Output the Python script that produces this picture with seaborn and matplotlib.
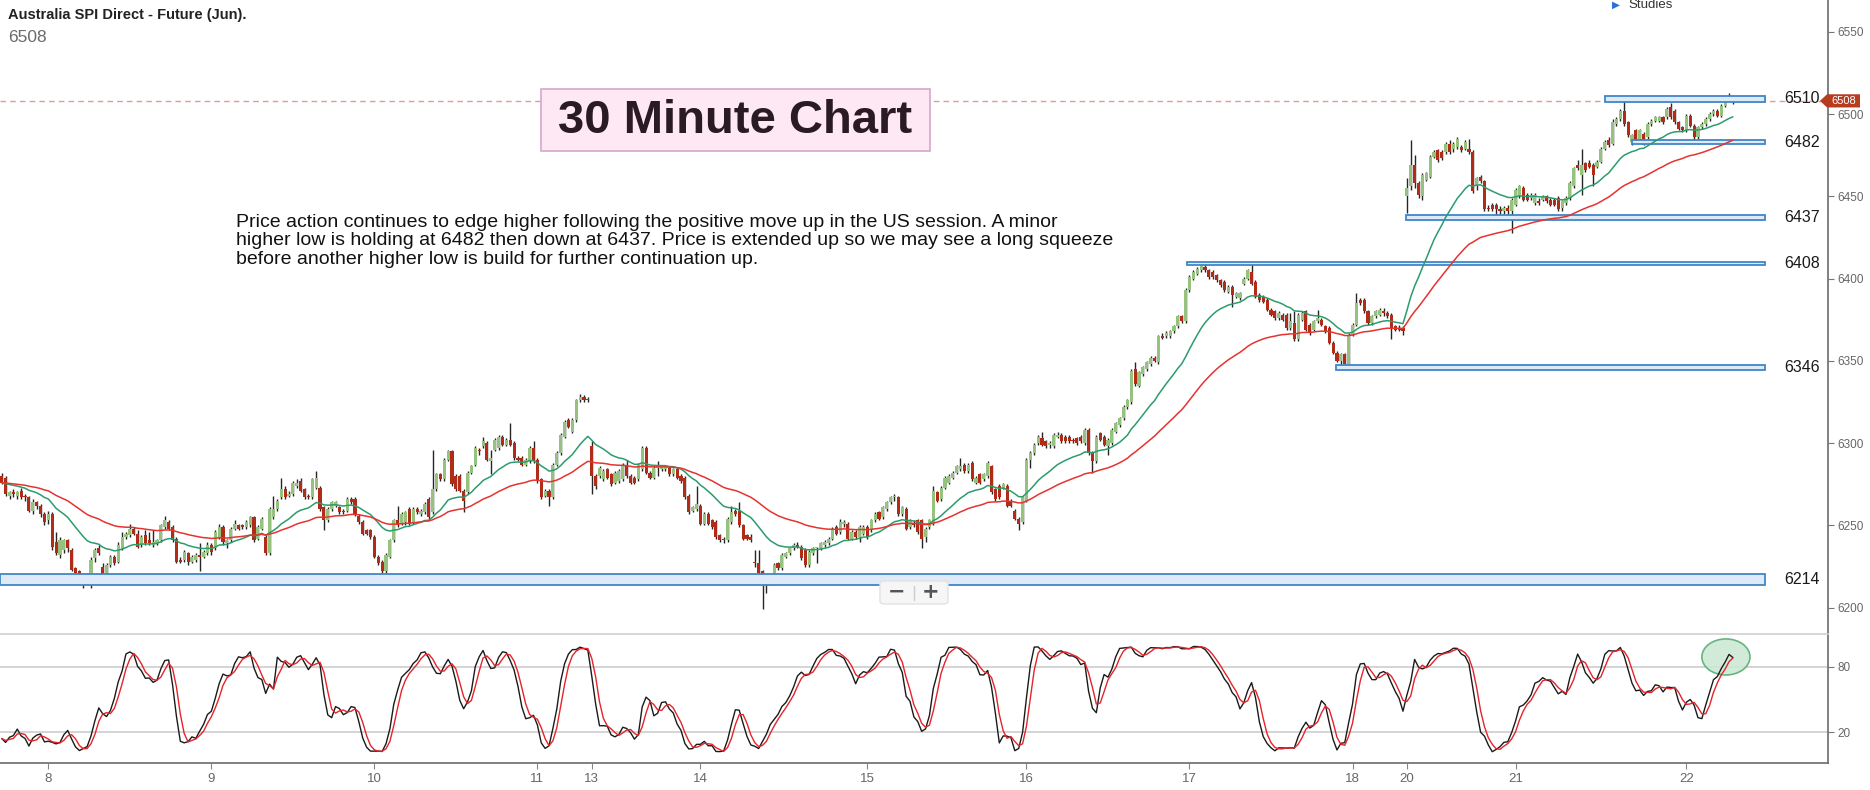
import numpy as np
import pandas as pd
import matplotlib
matplotlib.use("Agg")
import matplotlib.pyplot as plt
import matplotlib.patches as mpatches
import matplotlib.transforms as mtransforms
from matplotlib import font_manager
import seaborn as sns

# 30 minute bars
opens = [
    6280, 6279, 6268, 6270, 6268, 6271, 6268, 6267, 6259, 6264,
    6262, 6257, 6253, 6257, 6240, 6232, 6235, 6241, 6235, 6224,
    6222, 6219, 6220, 6217, 6230, 6236, 6225, 6221, 6226, 6231,
    6228, 6236, 6243, 6244, 6248, 6245, 6238, 6244, 6241, 6238,
    6239, 6241, 6249, 6252, 6249, 6242, 6229, 6229, 6233, 6228,
    6229, 6232, 6231, 6233, 6238, 6236, 6243, 6249, 6239, 6241,
    6248, 6250, 6250, 6249, 6250, 6255, 6242, 6248, 6243, 6233,
    6255, 6260, 6267, 6272, 6268, 6269, 6274, 6277, 6272, 6268,
    6267, 6273, 6273, 6261, 6253, 6260, 6262, 6261, 6259, 6259,
    6266, 6266, 6256, 6252, 6247, 6247, 6243, 6231, 6228, 6222,
    6231, 6241, 6253, 6251, 6252, 6260, 6252, 6260, 6257, 6258,
    6266, 6258, 6272, 6281, 6278, 6290, 6295, 6280, 6280, 6271,
    6270, 6282, 6287, 6296, 6298, 6300, 6289, 6296, 6297, 6304,
    6299, 6302, 6300, 6291, 6291, 6287, 6289, 6297, 6290, 6278,
    6268, 6271, 6267, 6287, 6294, 6304, 6314, 6307, 6314, 6326,
    6328, 6327, 6298, 6280, 6280, 6278, 6284, 6281, 6276, 6277,
    6278, 6287, 6280, 6279, 6278, 6284, 6297, 6282, 6279, 6285,
    6284, 6284, 6285, 6281, 6284, 6280, 6279, 6268, 6259, 6260,
    6262, 6251, 6257, 6253, 6252, 6244, 6242, 6241, 6252, 6259,
    6259, 6250, 6244, 6243, 6228, 6227, 6222, 6218, 6216, 6217,
    6227, 6224, 6231, 6233, 6236, 6238, 6237, 6235, 6226, 6233,
    6236, 6236, 6238, 6239, 6242, 6249, 6246, 6251, 6251, 6242,
    6246, 6243, 6245, 6249, 6247, 6253, 6258, 6255, 6260, 6264,
    6267, 6267, 6257, 6260, 6249, 6251, 6253, 6253, 6243, 6249,
    6251, 6270, 6266, 6273, 6276, 6279, 6282, 6284, 6287, 6283,
    6288, 6276, 6281, 6278, 6280, 6286, 6272, 6274, 6273, 6274,
    6265, 6259, 6254, 6252, 6265, 6290, 6294, 6300, 6303, 6301,
    6299, 6298, 6304, 6305, 6304, 6304, 6302, 6303, 6304, 6300,
    6308, 6294, 6289, 6306, 6304, 6298, 6300, 6307, 6311, 6315,
    6322, 6325, 6345, 6335, 6342, 6345, 6348, 6352, 6349, 6365,
    6365, 6365, 6368, 6371, 6377, 6374, 6393, 6400, 6403, 6405,
    6407, 6405, 6404, 6402, 6399, 6398, 6392, 6395, 6389, 6388,
    6397, 6400, 6404, 6398, 6390, 6389, 6387, 6381, 6380, 6376,
    6378, 6378, 6370, 6373, 6363, 6375, 6380, 6372, 6369, 6374,
    6375, 6371, 6370, 6361, 6355, 6350, 6354, 6348, 6366, 6372,
    6387, 6387, 6380, 6373, 6377, 6378, 6380, 6379, 6378, 6371,
    6370, 6370, 6450, 6456, 6469, 6458, 6450, 6460, 6462, 6474,
    6478, 6477, 6477, 6482, 6479, 6480, 6480, 6479, 6479, 6477,
    6456, 6462, 6459, 6443, 6445, 6445, 6442, 6441, 6443, 6441,
    6445, 6450, 6455, 6451, 6449, 6446, 6447, 6448, 6450, 6448,
    6448, 6449, 6443, 6446, 6449, 6456, 6469, 6463, 6470, 6470,
    6469, 6468, 6471, 6479, 6484, 6482, 6494, 6497, 6502, 6495,
    6483, 6490, 6485, 6488, 6486, 6494, 6496, 6496, 6498, 6498,
    6504, 6502, 6495, 6492, 6490, 6499, 6493, 6486, 6492, 6494,
    6497, 6500, 6502, 6499, 6505, 6511, 6508,
]
highs = [
    6282, 6280, 6271, 6272, 6271, 6273, 6269, 6268, 6266, 6265,
    6263, 6258, 6259, 6258, 6246, 6243, 6242, 6242, 6236, 6225,
    6223, 6221, 6221, 6231, 6236, 6238, 6227, 6227, 6232, 6232,
    6240, 6246, 6246, 6251, 6249, 6247, 6244, 6247, 6246, 6247,
    6242, 6251, 6256, 6253, 6250, 6243, 6231, 6235, 6234, 6232,
    6233, 6239, 6235, 6240, 6239, 6247, 6251, 6250, 6242, 6249,
    6253, 6251, 6251, 6253, 6256, 6256, 6250, 6255, 6244, 6261,
    6268, 6266, 6279, 6274, 6271, 6277, 6278, 6279, 6273, 6269,
    6279, 6283, 6274, 6262, 6261, 6265, 6265, 6262, 6260, 6267,
    6267, 6267, 6257, 6253, 6248, 6248, 6244, 6232, 6229, 6233,
    6242, 6254, 6262, 6258, 6259, 6261, 6261, 6261, 6260, 6264,
    6267, 6296, 6282, 6282, 6291, 6296, 6296, 6281, 6281, 6272,
    6283, 6287, 6298, 6297, 6304, 6301, 6296, 6303, 6305, 6305,
    6303, 6312, 6301, 6292, 6292, 6291, 6298, 6301, 6291, 6279,
    6272, 6272, 6288, 6295, 6306, 6314, 6315, 6315, 6327, 6330,
    6329, 6328, 6301, 6281, 6286, 6284, 6285, 6282, 6283, 6284,
    6288, 6290, 6281, 6280, 6288, 6298, 6298, 6283, 6286, 6289,
    6287, 6287, 6286, 6285, 6285, 6281, 6280, 6269, 6262, 6274,
    6263, 6258, 6258, 6254, 6253, 6245, 6243, 6255, 6262, 6260,
    6264, 6251, 6245, 6245, 6235, 6235, 6223, 6219, 6219, 6227,
    6228, 6233, 6234, 6237, 6239, 6240, 6238, 6236, 6235, 6237,
    6237, 6240, 6241, 6243, 6249, 6250, 6254, 6253, 6252, 6247,
    6247, 6250, 6250, 6250, 6254, 6258, 6259, 6262, 6265, 6268,
    6269, 6268, 6262, 6261, 6254, 6253, 6254, 6254, 6249, 6254,
    6274, 6271, 6274, 6280, 6281, 6283, 6287, 6291, 6288, 6288,
    6289, 6280, 6282, 6282, 6289, 6287, 6273, 6275, 6276, 6275,
    6266, 6260, 6255, 6268, 6291, 6295, 6300, 6305, 6307, 6302,
    6301, 6306, 6307, 6306, 6305, 6305, 6303, 6304, 6305, 6309,
    6309, 6295, 6305, 6307, 6305, 6303, 6309, 6313, 6316, 6323,
    6327, 6345, 6349, 6344, 6347, 6350, 6353, 6353, 6366, 6367,
    6368, 6369, 6372, 6378, 6378, 6394, 6402, 6405, 6407, 6410,
    6409, 6406, 6405, 6403, 6400, 6399, 6396, 6396, 6392, 6392,
    6401, 6406, 6410, 6399, 6391, 6390, 6388, 6382, 6381, 6380,
    6379, 6379, 6379, 6380, 6379, 6380, 6381, 6373, 6375, 6381,
    6376, 6372, 6371, 6362, 6356, 6355, 6355, 6367, 6373, 6391,
    6388, 6388, 6381, 6378, 6381, 6382, 6382, 6380, 6379, 6372,
    6372, 6371, 6461, 6484, 6475, 6459, 6464, 6465, 6475, 6478,
    6479, 6478, 6483, 6484, 6483, 6486, 6481, 6484, 6485, 6478,
    6462, 6463, 6460, 6445, 6446, 6446, 6444, 6444, 6445, 6449,
    6455, 6457, 6456, 6452, 6452, 6452, 6449, 6451, 6451, 6449,
    6449, 6450, 6448, 6450, 6459, 6468, 6472, 6479, 6471, 6472,
    6470, 6472, 6480, 6484, 6486, 6497, 6498, 6503, 6510, 6496,
    6488, 6491, 6491, 6489, 6495, 6497, 6499, 6499, 6499, 6504,
    6507, 6503, 6496, 6493, 6500, 6500, 6494, 6493, 6495, 6498,
    6501, 6503, 6503, 6506, 6510, 6513, 6509,
]
lows = [
    6275, 6268, 6266, 6267, 6266, 6266, 6265, 6258, 6257, 6260,
    6255, 6250, 6251, 6235, 6232, 6230, 6233, 6234, 6222, 6219,
    6217, 6212, 6215, 6212, 6228, 6232, 6219, 6217, 6225, 6226,
    6227, 6235, 6242, 6243, 6244, 6236, 6237, 6238, 6238, 6237,
    6238, 6240, 6248, 6247, 6240, 6227, 6227, 6228, 6226, 6227,
    6228, 6222, 6230, 6232, 6232, 6235, 6242, 6238, 6236, 6240,
    6247, 6247, 6248, 6248, 6249, 6240, 6241, 6247, 6232, 6232,
    6254, 6259, 6266, 6266, 6267, 6268, 6273, 6270, 6266, 6266,
    6266, 6272, 6259, 6247, 6252, 6259, 6261, 6257, 6257, 6258,
    6263, 6256, 6251, 6244, 6244, 6242, 6230, 6226, 6221, 6221,
    6230, 6240, 6249, 6250, 6250, 6250, 6251, 6257, 6256, 6257,
    6254, 6257, 6271, 6277, 6277, 6289, 6274, 6271, 6270, 6258,
    6269, 6281, 6286, 6293, 6297, 6289, 6281, 6295, 6296, 6298,
    6298, 6298, 6290, 6289, 6286, 6286, 6288, 6288, 6276, 6266,
    6267, 6262, 6266, 6286, 6293, 6303, 6309, 6306, 6313, 6325,
    6325, 6325, 6269, 6272, 6279, 6277, 6278, 6274, 6275, 6276,
    6277, 6279, 6275, 6275, 6277, 6283, 6281, 6278, 6278, 6280,
    6283, 6283, 6280, 6280, 6278, 6276, 6266, 6257, 6258, 6259,
    6250, 6250, 6250, 6248, 6242, 6240, 6239, 6240, 6251, 6256,
    6249, 6241, 6241, 6240, 6225, 6220, 6199, 6209, 6214, 6216,
    6223, 6223, 6230, 6232, 6235, 6236, 6229, 6225, 6225, 6232,
    6227, 6235, 6237, 6238, 6241, 6244, 6245, 6249, 6241, 6241,
    6242, 6240, 6244, 6242, 6246, 6252, 6253, 6254, 6259, 6263,
    6265, 6256, 6256, 6247, 6248, 6249, 6245, 6236, 6240, 6248,
    6250, 6264, 6265, 6272, 6275, 6278, 6281, 6283, 6282, 6282,
    6277, 6275, 6275, 6277, 6279, 6269, 6265, 6266, 6272, 6261,
    6261, 6253, 6247, 6251, 6264, 6285, 6293, 6299, 6298, 6297,
    6297, 6297, 6303, 6300, 6300, 6300, 6300, 6299, 6300, 6299,
    6293, 6282, 6288, 6301, 6298, 6293, 6299, 6306, 6310, 6314,
    6321, 6324, 6335, 6334, 6341, 6344, 6347, 6349, 6348, 6363,
    6364, 6364, 6367, 6370, 6373, 6373, 6392, 6399, 6402, 6404,
    6404, 6400, 6400, 6398, 6395, 6392, 6391, 6383, 6388, 6387,
    6396, 6399, 6396, 6388, 6386, 6385, 6380, 6377, 6375, 6375,
    6374, 6369, 6369, 6362, 6362, 6374, 6368, 6366, 6368, 6373,
    6371, 6367, 6360, 6354, 6349, 6346, 6347, 6347, 6365, 6371,
    6384, 6379, 6372, 6372, 6376, 6377, 6377, 6376, 6363, 6368,
    6368, 6366, 6440, 6454, 6455, 6449, 6448, 6459, 6461, 6473,
    6471, 6472, 6476, 6476, 6477, 6479, 6477, 6478, 6476, 6452,
    6454, 6458, 6441, 6441, 6441, 6438, 6436, 6439, 6437, 6428,
    6444, 6449, 6447, 6447, 6448, 6445, 6445, 6447, 6446, 6444,
    6444, 6441, 6441, 6445, 6448, 6455, 6466, 6451, 6465, 6467,
    6456, 6467, 6470, 6478, 6480, 6481, 6493, 6496, 6493, 6486,
    6481, 6483, 6484, 6481, 6485, 6493, 6495, 6495, 6494, 6497,
    6497, 6494, 6490, 6489, 6489, 6492, 6484, 6485, 6491, 6493,
    6496, 6499, 6498, 6498, 6504, 6508, 6506,
]
closes = [
    6276, 6269, 6270, 6269, 6270, 6267, 6267, 6259, 6264, 6262,
    6257, 6252, 6257, 6237, 6233, 6241, 6241, 6236, 6223, 6221,
    6219, 6216, 6217, 6229, 6235, 6233, 6220, 6226, 6231, 6227,
    6238, 6243, 6245, 6248, 6245, 6237, 6243, 6239, 6239, 6240,
    6241, 6250, 6253, 6248, 6241, 6228, 6228, 6234, 6228, 6231,
    6232, 6231, 6234, 6238, 6234, 6246, 6249, 6240, 6241, 6248,
    6251, 6248, 6249, 6252, 6255, 6241, 6249, 6254, 6233, 6260,
    6260, 6265, 6272, 6267, 6269, 6276, 6276, 6271, 6267, 6267,
    6278, 6279, 6260, 6253, 6260, 6264, 6264, 6258, 6258, 6266,
    6264, 6257, 6252, 6245, 6245, 6243, 6231, 6227, 6222, 6232,
    6241, 6253, 6250, 6257, 6258, 6251, 6260, 6258, 6259, 6263,
    6255, 6272, 6281, 6278, 6290, 6295, 6275, 6272, 6271, 6265,
    6282, 6286, 6297, 6295, 6301, 6290, 6291, 6302, 6304, 6299,
    6302, 6299, 6291, 6290, 6287, 6290, 6297, 6289, 6277, 6267,
    6271, 6267, 6287, 6294, 6305, 6313, 6310, 6314, 6326, 6328,
    6326, 6326, 6280, 6274, 6285, 6283, 6279, 6275, 6282, 6283,
    6287, 6280, 6276, 6276, 6287, 6297, 6282, 6279, 6285, 6285,
    6286, 6286, 6281, 6284, 6279, 6277, 6267, 6258, 6261, 6263,
    6251, 6257, 6251, 6249, 6243, 6241, 6241, 6254, 6258, 6257,
    6250, 6242, 6242, 6241, 6227, 6221, 6217, 6215, 6218, 6226,
    6224, 6232, 6233, 6236, 6238, 6237, 6230, 6226, 6234, 6236,
    6236, 6239, 6240, 6242, 6248, 6245, 6252, 6251, 6242, 6246,
    6243, 6249, 6249, 6243, 6253, 6257, 6254, 6261, 6264, 6267,
    6267, 6257, 6261, 6248, 6253, 6250, 6246, 6242, 6248, 6253,
    6271, 6265, 6273, 6279, 6280, 6282, 6286, 6286, 6283, 6287,
    6278, 6279, 6276, 6281, 6288, 6270, 6266, 6267, 6275, 6262,
    6262, 6254, 6251, 6267, 6290, 6294, 6299, 6304, 6299, 6298,
    6300, 6305, 6305, 6301, 6301, 6301, 6301, 6300, 6301, 6308,
    6294, 6289, 6304, 6302, 6299, 6302, 6308, 6312, 6315, 6322,
    6326, 6344, 6336, 6343, 6346, 6349, 6352, 6350, 6365, 6364,
    6367, 6368, 6371, 6377, 6374, 6393, 6401, 6404, 6406, 6408,
    6405, 6401, 6401, 6399, 6396, 6393, 6395, 6390, 6391, 6391,
    6400, 6405, 6397, 6389, 6387, 6386, 6381, 6378, 6376, 6379,
    6375, 6370, 6374, 6363, 6378, 6379, 6369, 6367, 6374, 6376,
    6372, 6368, 6361, 6355, 6350, 6354, 6348, 6366, 6372, 6385,
    6385, 6380, 6373, 6377, 6380, 6381, 6379, 6377, 6370, 6369,
    6369, 6368, 6455, 6469, 6458, 6451, 6463, 6464, 6474, 6477,
    6472, 6473, 6482, 6477, 6482, 6485, 6478, 6483, 6477, 6453,
    6461, 6459, 6442, 6442, 6442, 6442, 6441, 6443, 6441, 6448,
    6454, 6456, 6448, 6448, 6451, 6451, 6446, 6450, 6447, 6445,
    6445, 6442, 6447, 6449, 6458, 6467, 6467, 6469, 6466, 6468,
    6463, 6471, 6479, 6483, 6481, 6495, 6497, 6502, 6494, 6487,
    6487, 6484, 6490, 6481, 6494, 6496, 6498, 6498, 6495, 6503,
    6498, 6495, 6491, 6490, 6499, 6493, 6486, 6492, 6494, 6497,
    6500, 6502, 6499, 6505, 6509, 6509, 6508,
]

# date axis: first bar of each trading date
day_labels = ["8", "9", "10", "11", "13", "14", "15", "16", "17", "18", "20", "21", "22"]
day_first_bar = [12, 54, 96, 138, 152, 180, 223, 264, 306, 348, 362, 390, 434]

# support / resistance boxes
levels = [6510, 6482, 6437, 6408, 6346, 6214]
level_lows = [6507.5, 6481.5, 6435.5, 6408, 6344.5, 6214]
level_highs = [6511, 6484.5, 6438.5, 6410, 6347.5, 6220.5]
level_starts = [413, 420, 361.7, 305.3, 343.7, -0.45]

title = "Australia SPI Direct - Future (Jun)."
note = ("Price action continues to edge higher following the positive move up in the US session. A minor\n"
        "higher low is holding at 6482 then down at 6437. Price is extended up so we may see a long squeeze\n"
        "before another higher low is build for further continuation up.")

sns.set_style("white")
avail = {f.name for f in font_manager.fontManager.ttflist}
has_narrow = "Liberation Sans Narrow" in avail
narrow = ["Liberation Sans Narrow", "Liberation Sans", "DejaVu Sans"] if has_narrow else ["Liberation Sans", "DejaVu Sans"]
plt.rcParams["font.family"] = ["Liberation Sans", "DejaVu Sans"]

W, H = 1870, 790
fig = plt.figure(figsize=(W / 100, H / 100), dpi=100)
ax = fig.add_axes([0, 1 - 634 / H, 1828 / W, 634 / H])
ax_st = fig.add_axes([0, 1 - 763 / H, 1828 / W, 129 / H])

df = pd.DataFrame({"open": opens, "high": highs, "low": lows, "close": closes})
df["bar"] = np.arange(len(df))
up = df["close"] >= df["open"]

# candles
ax.vlines(df["bar"], df["low"], df["high"], color="#262626", lw=1.0, zorder=2)
body = (df["close"] - df["open"]).abs().clip(lower=0.9)
bottom = df[["open", "close"]].min(axis=1)
ax.bar(df["bar"][up], body[up], bottom=bottom[up], width=0.8, color="#96c27f", lw=0, zorder=3)
ax.bar(df["bar"][~up], body[~up], bottom=bottom[~up], width=0.8, color="#b02c19", lw=0, zorder=3)

# moving averages
df["ema_fast"] = df["close"].ewm(span=20, adjust=False).mean()
df["ema_slow"] = df["close"].ewm(span=50, adjust=False).mean()
sns.lineplot(data=df, x="bar", y="ema_fast", ax=ax, color="#2b9c6c", lw=1.1, zorder=5)
sns.lineplot(data=df, x="bar", y="ema_slow", ax=ax, color="#e5332f", lw=1.1, zorder=5)

# levels
box_end = 454.2
for lvl, lo, hi, start in zip(levels, level_lows, level_highs, level_starts):
    ax.add_patch(mpatches.Rectangle((start, lo), box_end - start, hi - lo,
                                    fc="#dfeaf8", ec="#3f86c8", lw=1.3, zorder=4))
    ax.text(459.3, (lo + hi) / 2, str(lvl), va="center", ha="left",
            fontsize=11.5, color="#1a1a1a", family=narrow)

last = closes[-1]
ax.axhline(last, color="#e49a90", ls=(0, (4, 3)), lw=1, zorder=1)

ax.set_xlim(-0.45, 470.5)
ax.set_ylim(6184, 6569.3)
ax.set_xlabel("")
ax.set_ylabel("")
ax.set_xticks([])
ax.yaxis.tick_right()
ax.set_yticks(range(6200, 6551, 50))
ax.tick_params(axis="y", colors="#777777", labelcolor="#666666", labelsize=8.5,
               length=4, width=0.8, pad=3, right=True, left=False)
for s in ["left", "top", "bottom"]:
    ax.spines[s].set_visible(False)
ax.spines["right"].set_color("#6b6b6b")
ax.spines["right"].set_linewidth(1.2)

# stochastic
ll = df["low"].rolling(14, min_periods=1).min()
hh = df["high"].rolling(14, min_periods=1).max()
fast_k = 100 * (df["close"] - ll) / (hh - ll)
df["k"] = fast_k.rolling(3, min_periods=1).mean()
df["d"] = df["k"].rolling(3, min_periods=1).mean()

ax_st.add_patch(mpatches.Ellipse((444.2, 88.9), 12.4, 33, fc="#cde9d4", ec="#5aad76",
                                 lw=1.2, alpha=0.9, zorder=1))
for v in [20, 80]:
    ax_st.axhline(v, color="#c9c9c9", lw=1.1, zorder=0)
sns.lineplot(data=df, x="bar", y="k", ax=ax_st, color="#1a1a1a", lw=1.0, zorder=3)
sns.lineplot(data=df, x="bar", y="d", ax=ax_st, color="#e3242b", lw=1.0, zorder=4)

ax_st.set_xlim(-0.45, 470.5)
ax_st.set_ylim(-8.1, 109.9)
ax_st.set_xlabel("")
ax_st.set_ylabel("")
ax_st.yaxis.tick_right()
ax_st.set_yticks([20, 80])
ax_st.tick_params(axis="y", colors="#777777", labelcolor="#666666", labelsize=8.5,
                  length=4, width=0.8, pad=3, right=True, left=False)
ax_st.set_xticks(day_first_bar)
ax_st.set_xticklabels(day_labels)
ax_st.tick_params(axis="x", colors="#888888", labelcolor="#666666", labelsize=9.5,
                  length=4, width=0.8, pad=3, bottom=True)
ax_st.spines["left"].set_visible(False)
ax_st.spines["top"].set_color("#cfcfcf")
ax_st.spines["top"].set_linewidth(1.2)
for s in ["right", "bottom"]:
    ax_st.spines[s].set_color("#6b6b6b")
    ax_st.spines[s].set_linewidth(1.2)

# price tag on the axis
trans = mtransforms.blended_transform_factory(fig.transFigure, ax.transData)
tag = mpatches.Polygon([(1820 / W, last), (1827 / W, last + 4), (1860 / W, last + 4),
                        (1860 / W, last - 4), (1827 / W, last - 4)], closed=True,
                       transform=trans, fc="#b63b1f", ec="none", clip_on=False, zorder=10)
fig.add_artist(tag)
fig.text(1843.5 / W, last, str(last), transform=trans, ha="center", va="center",
         fontsize=8, color="white", zorder=11)

# header
fig.text(8 / W, 1 - 15 / H, title, ha="left", va="center", fontsize=12 if has_narrow else 10.5,
         fontweight="bold", color="#222222", family=narrow)
fig.text(8 / W, 1 - 37 / H, str(last), ha="left", va="center", fontsize=12.5,
         color="#6b6b6b", family=narrow)
fig.text(1612 / W, 1 - 5 / H, "\u25b6", ha="left", va="center", fontsize=7.5, color="#2a6fdb",
         family=["DejaVu Sans"])
fig.text(1628 / W, 1 - 5 / H, "Studies", ha="left", va="center", fontsize=9.5, color="#333333")

# title box
fig.add_artist(mpatches.FancyBboxPatch((541 / W, 1 - 151 / H), 389 / W, 62 / H,
                                       boxstyle="square,pad=0", transform=fig.transFigure,
                                       fc="#fde8f3", ec="#d9a6c9", lw=1.2, zorder=6))
fig.text(735.5 / W, 1 - 121 / H, "30 Minute Chart", ha="center", va="center",
         fontsize=42 if has_narrow else 34, fontweight="bold", color="#2a1a22",
         family=narrow, zorder=7)

fig.text(236 / W, 1 - 214 / H, note, ha="left", va="top", fontsize=14,
         linespacing=1.1, color="#111111")

# zoom buttons
fig.add_artist(mpatches.FancyBboxPatch((880 / W, 1 - 604 / H), 68 / W, 23 / H,
                                       boxstyle="round,pad=0,rounding_size=0.003",
                                       transform=fig.transFigure, fc="#f6f6f6", ec="#e2e2e2",
                                       lw=1, zorder=8))
fig.add_artist(plt.Line2D([914 / W, 914 / W], [1 - 586 / H, 1 - 600 / H],
                          transform=fig.transFigure, color="#cccccc", lw=1, zorder=9))
fig.text(897 / W, 1 - 592 / H, "\u2212", ha="center", va="center", fontsize=15,
         fontweight="bold", color="#555555", zorder=9, family=["DejaVu Sans"])
fig.text(931 / W, 1 - 592 / H, "+", ha="center", va="center", fontsize=15,
         fontweight="bold", color="#555555", zorder=9, family=["DejaVu Sans"])

fig.savefig("out.png", dpi=100)
